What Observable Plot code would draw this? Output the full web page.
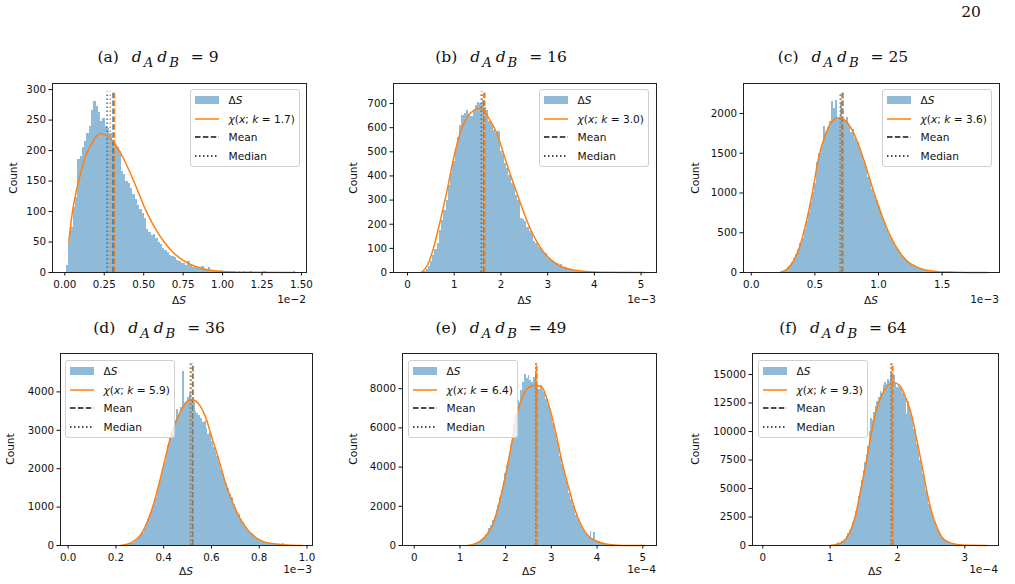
<!DOCTYPE html>
<html><head><meta charset="utf-8">
<script src="https://cdn.jsdelivr.net/npm/d3@7"></script>
<script src="https://cdn.jsdelivr.net/npm/@observablehq/plot@0.6"></script>
<style>
body{margin:0;background:#fff;}
#page{position:relative;width:1015px;height:584px;overflow:hidden;background:#fff;font-family:"DejaVu Sans",sans-serif;color:#111;}
.abs{position:absolute;white-space:nowrap;}
.title{font-family:"DejaVu Serif",serif;font-size:15.5px;transform:translate(-50%,-50%);line-height:1;}
.title .m{margin-left:13px;margin-right:3px;letter-spacing:1px;}
.title sub{font-size:0.85em;vertical-align:-0.4em;font-style:italic;margin-right:3px;margin-left:1px;}
.lab{font-size:10.6px;line-height:1;}
.ylab{transform:translate(-50%,-50%) rotate(-90deg);}
.xlab{transform:translate(-50%,-50%);}
.off{transform:translate(-100%,-50%);}
.legend{position:absolute;width:110px;box-sizing:border-box;padding:1px 4px 1px 4px;background:rgba(255,255,255,0.8);border:1px solid #d0d0d0;border-radius:3px;font-size:10.6px;}
.legend .row{height:18.6px;display:flex;align-items:center;}
.legend svg{display:block;margin-right:9.5px;flex:none;}
.plotbox{position:absolute;}
</style></head>
<body><div id="page"></div>
<script>
// ---------------- data ----------------
const panelLetters = ["a","b","c","d","e","f"];
const dAdB = [9,16,25,36,49,64];
const kFit = ["1.7","3.0","3.6","5.9","6.4","9.3"];
const xExponent = ["1e\u22122","1e\u22123","1e\u22123","1e\u22123","1e\u22124","1e\u22124"];

// histogram bins: first edge, width, counts (100 bins each)
const binStarts = [0.009, 0.30, 0.20, 0.22, 1.17, 1.06];
const binWidths = [0.01456, 0.048, 0.0166, 0.0076, 0.0388, 0.0227];

const countsA = [11,50,74,107,123,185,190,205,215,228,
 240,265,281,272,262,248,252,240,236,228,
 214,208,205,198,165,160,150,146,138,128,
 120,110,104,96,88,70,66,60,62,56,
 50,46,40,36,33,28,26,24,20,18,
 15,14,12,18,11,9,8,7,9,10,
 5,4,8,3,3,2,2,3,1,2,
 1,1,2,1,0,1,0,1,0,0,
 1,0,0,0,0,0,1,0,0,0,
 0,0,0,0,0,0,0,0,0,1];
const countsB = [2,5,12,25,45,70,95,120,175,215,
 255,300,360,410,460,510,560,610,650,660,
 670,655,645,670,690,705,700,712,685,670,
 625,610,590,575,585,500,490,450,430,400,
 370,360,320,300,225,220,210,185,170,160,
 130,120,105,100,85,80,60,55,50,42,
 38,30,32,22,20,15,14,10,9,7,
 6,5,4,4,3,2,2,2,1,1,
 1,1,0,1,0,0,0,1,0,0,
 0,0,0,0,0,0,0,0,0,1];
const countsC = [2,5,10,20,35,60,90,125,170,230,
 290,360,430,540,640,760,880,1010,1120,1380,
 1500,1590,1840,1760,1820,1900,2150,2060,2160,1950,
 2140,1920,1900,1950,1850,1760,1800,1680,1640,1560,
 1480,1380,1330,1200,1150,1050,980,900,830,750,
 680,610,540,480,430,375,330,290,250,215,
 185,150,125,105,85,70,58,48,38,32,
 25,20,17,14,11,9,7,6,5,4,
 3,3,2,2,1,1,1,1,0,1,
 0,0,1,0,0,0,0,0,0,1];
const countsD = [3,5,8,15,25,40,60,85,120,160,
 210,280,340,430,560,680,800,950,1100,1260,
 1420,1600,1800,2000,2200,2400,2600,2800,2950,3100,
 3250,3550,3420,3600,4520,3700,3720,3850,3950,3800,
 3720,3500,3450,3380,3320,3200,3230,3050,2900,2950,
 2700,2550,2420,2330,2170,1980,1850,1700,1620,1480,
 1320,1250,1080,980,860,800,690,600,540,470,
 400,340,300,250,210,180,150,125,100,85,
 70,60,50,40,32,26,20,16,12,60,
 10,8,6,5,4,3,2,2,1,1];
const countsE = [5,10,20,40,70,110,170,250,330,430,
 540,680,850,1000,1250,1450,1780,2050,2450,2800,
 3200,3650,4100,4500,5100,5600,6150,6700,7400,7300,
 7900,8300,8700,8500,8650,8400,8300,8550,8840,8100,
 7950,8150,7900,7800,7450,7200,6950,6550,6200,5800,
 5350,5000,4550,4150,3750,3350,3000,2650,2350,2050,
 1780,1550,1320,1120,950,800,660,550,460,700,
 380,650,260,220,180,145,115,90,72,58,
 45,35,28,20,16,12,9,7,5,4,
 3,2,2,1,1,1,0,0,0,1];
const countsF = [10,30,300,120,200,320,420,560,800,1050,
 1300,1600,2050,2500,3000,3600,4300,5100,5700,6600,
 7300,8000,8700,10000,11100,11000,11700,12200,12600,13000,
 13500,13300,14000,14300,14100,14600,14400,15200,14800,14900,
 14200,13900,14000,13900,13700,13300,13000,11500,12600,12000,
 11500,10900,10200,9600,8900,8200,7500,6900,6200,5500,
 4800,4200,3600,3100,2600,2200,1850,1500,1250,1000,
 800,620,480,370,290,220,165,125,95,70,
 50,38,28,20,15,11,8,6,4,3,
 2,2,1,1,1,0,0,0,0,1];

// fitted chi curves
const curveAx = [0.025,0.047,0.07,0.10,0.13,0.163,0.195,0.23,0.27,0.31,0.345,0.376,0.41,0.437,0.47,0.50,0.54,0.585,0.63,0.69,0.75,0.817,0.89,0.965,1.05,1.2,1.458];
const curveAy = [50,97,130,162,190,208,222,228,224,214,200,185,166,150,129,110,88,67,50,32,20,11,5.5,2.5,1,0.3,0];
const curveBx = [0.29,0.42,0.56,0.70,0.845,0.99,1.13,1.27,1.42,1.51,1.63,1.775,1.92,2.06,2.20,2.35,2.49,2.63,2.78,2.92,3.10,3.31,3.53,3.81,4.2,5.08];
const curveBy = [0,28,104,214,338,476,580,642,672,679,670,628,573,490,407,324,249,180,124,83,48,23,11,4,1,0];
const curveCx = [0.228,0.28,0.33,0.38,0.43,0.48,0.53,0.58,0.63,0.69,0.74,0.79,0.84,0.89,0.94,0.99,1.04,1.09,1.14,1.19,1.24,1.30,1.36,1.45,1.55,1.70,1.86];
const curveCy = [0,40,140,320,620,1000,1450,1720,1890,1950,1910,1800,1620,1390,1130,880,660,470,320,205,125,70,36,14,5,1,0];
const curveDx = [0.22,0.26,0.30,0.34,0.37,0.40,0.43,0.46,0.49,0.515,0.545,0.575,0.60,0.63,0.66,0.69,0.72,0.75,0.78,0.81,0.85,0.90,0.98];
const curveDy = [0,60,250,750,1350,2100,2850,3350,3700,3800,3700,3350,2850,2250,1600,1100,700,420,230,120,55,22,3];
const curveEx = [1.17,1.30,1.45,1.59,1.70,1.81,1.92,2.03,2.14,2.25,2.36,2.50,2.65,2.80,2.94,3.09,3.23,3.38,3.53,3.67,3.82,4.00,4.22,4.44,4.70,5.05];
const curveEy = [0,70,240,550,970,1740,2760,3960,5320,6690,7540,8050,8170,8050,7200,5830,4300,2930,1740,970,460,205,68,17,3,0];
const curveFx = [1.00,1.13,1.23,1.30,1.38,1.45,1.53,1.60,1.67,1.75,1.85,1.945,2.04,2.14,2.22,2.29,2.37,2.44,2.51,2.59,2.66,2.76,2.88,3.05,3.33];
const curveFy = [0,150,530,1260,2720,4770,7120,9460,11510,12980,14000,14300,14000,12680,11220,9170,6830,4630,2870,1550,730,290,90,15,0];

// mean / median markers
const medianData = [0.268, 1.58, 0.700, 0.512, 2.660, 1.905];
const medianFit  = [0.288, 1.60, 0.705, 0.515, 2.665, 1.910];
const meanData   = [0.306, 1.64, 0.715, 0.521, 2.675, 1.925];
const meanFit    = [0.315, 1.655, 0.722, 0.524, 2.680, 1.930];
const lineTop    = [296, 748, 2264, 4740, 9283, 15967];

// axes
const xTicksA = [0,0.25,0.5,0.75,1.0,1.25,1.5];
const xTicksB = [0,1,2,3,4,5];
const xTicksC = [0,0.5,1.0,1.5];
const xTicksD = [0,0.2,0.4,0.6,0.8,1.0];
const xTicksE = [0,1,2,3,4,5];
const xTicksF = [0,1,2,3];
const yTicksA = [0,50,100,150,200,250,300];
const yTicksB = [0,100,200,300,400,500,600,700];
const yTicksC = [0,500,1000,1500,2000];
const yTicksD = [0,1000,2000,3000,4000];
const yTicksE = [0,2000,4000,6000,8000];
const yTicksF = [0,2500,5000,7500,10000,12500,15000];
const xTickFormats = [".2f","d",".1f",".1f","d","d"];
const xDomains = [[-0.078,1.532],[-0.30,5.33],[-0.061,1.951],[-0.032,1.023],[-0.256,5.30],[-0.153,3.50]];
const yMax = [310, 783, 2377, 5000, 9795, 16845];

// ---------------- layout ----------------
const counts = [countsA,countsB,countsC,countsD,countsE,countsF];
const curvesX = [curveAx,curveBx,curveCx,curveDx,curveEx,curveFx];
const curvesY = [curveAy,curveBy,curveCy,curveDy,curveEy,curveFy];
const xTicks = [xTicksA,xTicksB,xTicksC,xTicksD,xTicksE,xTicksF];
const yTicks = [yTicksA,yTicksB,yTicksC,yTicksD,yTicksE,yTicksF];
// frame boxes [left, right, top, bottom] in page pixels
const frames = [[52,306,83,272],[393,656,83,272],[743,999,83,272],[60,312,353,545],[402,656,353,545],[752,998,353,545]];
const titleCenters = [[158,60],[501,60],[843,60],[159,331],[501,331],[843,331]];
const countX = [13,353,695,10,353,695];
const legendPos = [[190,89],[539,89],[882,89],[65,360],[408,360],[758,360]];

const C0 = "#1f77b4", C1 = "#ff7f0e", BAR = "#8fbbd9";
const page = document.getElementById("page");

function addText(cls, x, y, html){
  const d = document.createElement("div");
  d.className = "abs " + cls;
  d.style.left = x + "px"; d.style.top = y + "px";
  d.innerHTML = html;
  page.appendChild(d);
  return d;
}

// page number
addText("title", 971, 13, "20");

const mL = 60, mR = 12, mT = 8, mB = 30;
for (let i = 0; i < 6; i++) {
  const [x0,x1,y0,y1] = frames[i];
  const bins = counts[i].map((c,j)=>({x1: binStarts[i] + j*binWidths[i], x2: binStarts[i] + (j+1)*binWidths[i], count: c}));
  const curve = curvesX[i].map((x,j)=>({x, y: curvesY[i][j]}));
  const dotted = "1.5,2.5", dashed = "5.5,2.4";
  const chart = Plot.plot({
    width: x1 - x0 + mL + mR,
    height: y1 - y0 + mT + mB,
    marginLeft: mL, marginRight: mR, marginTop: mT, marginBottom: mB,
    style: {fontFamily: "DejaVu Sans", fontSize: "10.3px", background: "transparent", color: "#111"},
    x: {domain: xDomains[i]},
    y: {domain: [0, yMax[i]]},
    marks: [
      Plot.rectY(bins, {x1: "x1", x2: "x2", y: "count", fill: BAR, shapeRendering: "crispEdges"}),
      Plot.ruleX([medianData[i]], {y1: 0, y2: lineTop[i], stroke: C0, strokeWidth: 1.5, strokeDasharray: dotted}),
      Plot.ruleX([meanData[i]], {y1: 0, y2: lineTop[i], stroke: C0, strokeWidth: 1.5, strokeDasharray: dashed}),
      Plot.ruleX([medianFit[i]], {y1: 0, y2: lineTop[i], stroke: C1, strokeWidth: 1.5, strokeDasharray: dotted}),
      Plot.ruleX([meanFit[i]], {y1: 0, y2: lineTop[i], stroke: C1, strokeWidth: 1.5, strokeDasharray: dashed}),
      Plot.line(curve, {x: "x", y: "y", stroke: C1, strokeWidth: 1.5, curve: "monotone-x"}),
      Plot.frame({stroke: "#222", strokeWidth: 1}),
      Plot.axisX({ticks: xTicks[i], tickFormat: d3.format(xTickFormats[i]), tickSize: 3.5, tickPadding: 5, label: null, fontSize: 10.3}),
      Plot.axisY({ticks: yTicks[i], tickFormat: d3.format("d"), tickSize: 3.5, tickPadding: 3, label: null, fontSize: 10.3})
    ]
  });
  const box = document.createElement("div");
  box.className = "plotbox";
  box.style.left = (x0 - mL) + "px";
  box.style.top = (y0 - mT) + "px";
  box.appendChild(chart);
  page.appendChild(box);

  // titles and labels
  const [tx, ty] = titleCenters[i];
  addText("title", tx, ty, `(${panelLetters[i]})<span class="m"><i>d</i><sub>A</sub><i>d</i><sub>B</sub></span> = ${dAdB[i]}`);
  const yc = (y0 + y1) / 2;
  addText("lab ylab", countX[i], yc, "Count");
  const row1 = i < 3;
  addText("lab xlab", (x0 + x1) / 2, row1 ? 300 : 571, "\u0394<i>S</i>");
  addText("lab off", x1, row1 ? 299 : 569, xExponent[i]);

  // legend
  const [lx, ly] = legendPos[i];
  const lg = document.createElement("div");
  lg.className = "legend";
  lg.style.left = lx + "px"; lg.style.top = ly + "px";
  lg.innerHTML =
    `<div class="row"><svg width="24" height="10"><rect x="0" y="1" width="24" height="8" fill="${BAR}"/></svg><span>\u0394<i>S</i></span></div>` +
    `<div class="row"><svg width="24" height="10"><line x1="0" x2="24" y1="5" y2="5" stroke="${C1}" stroke-width="1.5"/></svg><span><i>\u03c7</i>(<i>x</i>; <i>k</i> = ${kFit[i]})</span></div>` +
    `<div class="row"><svg width="24" height="10"><line x1="0" x2="24" y1="5" y2="5" stroke="#111" stroke-width="1.5" stroke-dasharray="5.5,2.4"/></svg><span>Mean</span></div>` +
    `<div class="row"><svg width="24" height="10"><line x1="0" x2="24" y1="5" y2="5" stroke="#111" stroke-width="1.5" stroke-dasharray="1.5,2.5"/></svg><span>Median</span></div>`;
  page.appendChild(lg);
}
</script>
</body></html>
